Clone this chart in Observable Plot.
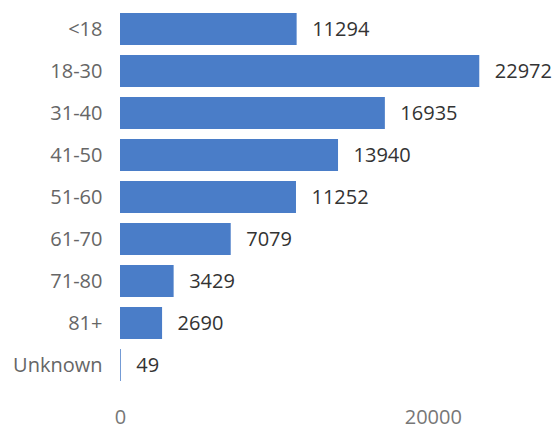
<!DOCTYPE html>
<html>
<head>
<meta charset="utf-8">
<script src="https://cdn.jsdelivr.net/npm/d3@7"></script>
<script src="https://cdn.jsdelivr.net/npm/@observablehq/plot@0.6"></script>
<style>
  html, body { margin: 0; padding: 0; background: #fff; }
  #chart svg { display: block; }
</style>
</head>
<body>
<div id="chart"></div>
<script>
const categories = ["<18", "18-30", "31-40", "41-50", "51-60", "61-70", "71-80", "81+", "Unknown"];
const counts = [11294, 22972, 16935, 13940, 11252, 7079, 3429, 2690, 49];
const xTicks = [0, 20000];

const data = categories.map((c, i) => ({category: c, count: counts[i]}));

const chart = Plot.plot({
  width: 556,
  height: 431,
  marginLeft: 120,
  marginRight: 45,
  marginTop: 6,
  marginBottom: 44,
  style: {fontFamily: "'Open Sans', sans-serif", fontSize: "20px", background: "#fff"},
  x: {domain: [0, 25000], ticks: xTicks, tickSize: 0, tickPadding: 23, label: null, tickFormat: d => String(d)},
  y: {domain: categories, paddingInner: 0.25, paddingOuter: 0.125, tickSize: 0, tickPadding: 18, label: null},
  marks: [
    Plot.barX(data, {y: "category", x: "count", fill: "#4a7dc8"}),
    Plot.text(data, {y: "category", x: "count", text: d => String(d.count), textAnchor: "start", dx: 15, fill: "#333", fontSize: 20}),
    Plot.axisY({tickSize: 0, tickPadding: 18, color: "#666", fontSize: 20, label: null}),
    Plot.axisX({ticks: xTicks, tickSize: 0, tickPadding: 22, color: "#777", fontSize: 20, label: null, tickFormat: d => String(d)})
  ]
});
document.getElementById("chart").appendChild(chart);
</script>
</body>
</html>
